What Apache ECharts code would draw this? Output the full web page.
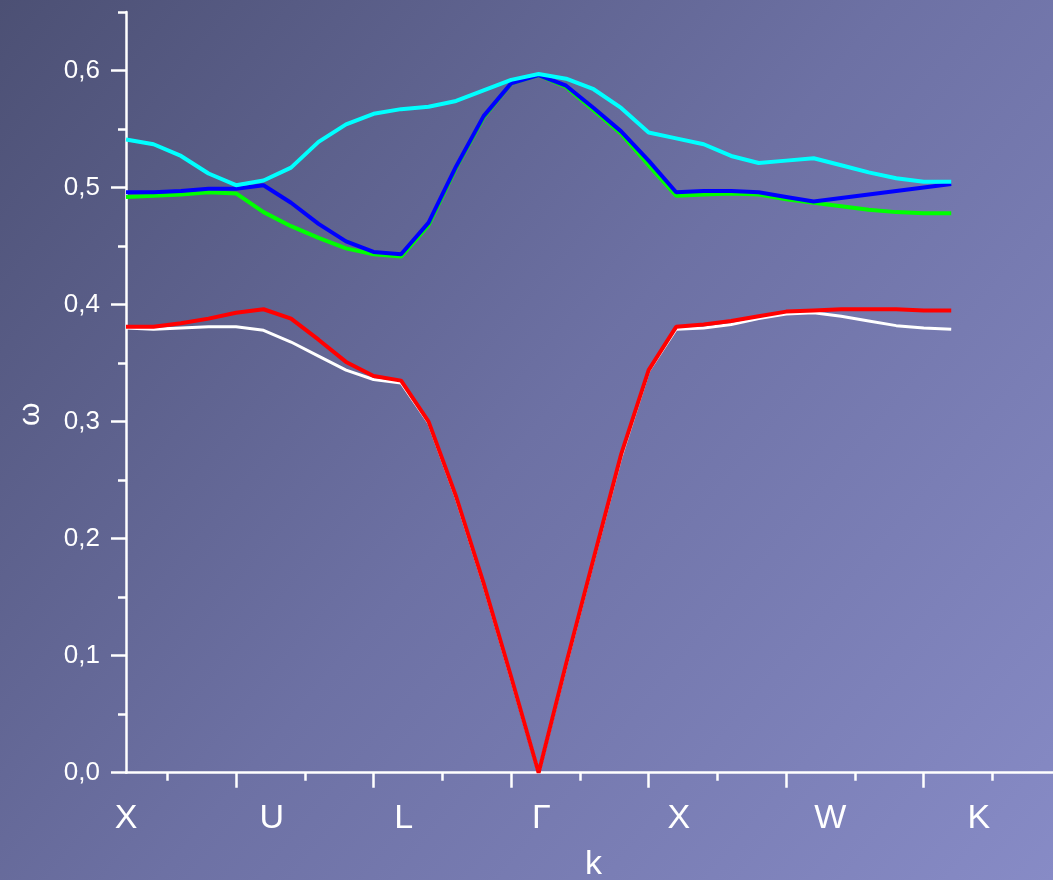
<!DOCTYPE html>
<html><head><meta charset="utf-8">
<script src="https://cdn.jsdelivr.net/npm/echarts@6/dist/echarts.min.js"></script>
<style>html,body{margin:0;padding:0;overflow:hidden;} #c{width:1053px;height:880px;}</style>
</head><body><div id="c"></div>
<script>
// k-path sample index (31 points along X-U-L-Γ-X-W-K)
const kIndex = [0,1,2,3,4,5,6,7,8,9,10,11,12,13,14,15,16,17,18,19,20,21,22,23,24,25,26,27,28,29,30];

const whiteBand = [0.380,0.379,0.380,0.381,0.381,0.378,0.368,0.356,0.344,0.336,0.333,0.299,0.235,0.161,0.081,0.000,0.092,0.182,0.270,0.343,0.379,0.380,0.383,0.388,0.392,0.393,0.390,0.386,0.382,0.380,0.379];
const redBand   = [0.381,0.381,0.384,0.388,0.393,0.396,0.388,0.370,0.351,0.339,0.335,0.300,0.236,0.162,0.082,0.000,0.093,0.183,0.272,0.344,0.381,0.383,0.386,0.390,0.394,0.395,0.396,0.396,0.396,0.395,0.395];
const greenBand = [0.492,0.493,0.494,0.496,0.495,0.479,0.467,0.457,0.448,0.443,0.441,0.468,0.517,0.560,0.589,0.596,0.586,0.566,0.546,0.519,0.493,0.494,0.495,0.494,0.490,0.487,0.484,0.481,0.479,0.478,0.478];
const blueBand  = [0.496,0.496,0.497,0.499,0.499,0.502,0.487,0.469,0.454,0.445,0.443,0.470,0.518,0.561,0.589,0.596,0.587,0.568,0.548,0.523,0.496,0.497,0.497,0.496,0.492,0.488,0.491,0.494,0.497,0.500,0.503];
const cyanBand  = [0.541,0.537,0.527,0.512,0.502,0.506,0.517,0.539,0.554,0.563,0.567,0.569,0.574,0.583,0.592,0.597,0.593,0.584,0.568,0.547,0.542,0.537,0.527,0.521,0.523,0.525,0.519,0.513,0.508,0.505,0.505];

const pointLabels   = ['X','U','L','Γ','X','W','K'];
const pointLabelPos = [0,5.3,10.1,15.1,20.1,25.6,31];
const xMajorTicks = [4,9,14,19,24,29];
const xMinorTicks = [1.5,6.5,11.5,16.5,21.5,26.5,31.5];
const yMajorTicks = [0,0.1,0.2,0.3,0.4,0.5,0.6];
const yMinorTicks = [0.05,0.15,0.25,0.35,0.45,0.55,0.65];

const FONT = "'Liberation Sans', Arial, sans-serif";
const chart = echarts.init(document.getElementById('c'), null, {renderer:'canvas'});

function pairs(arr){ return kIndex.map((k,i)=>[k, arr[i]]); }
function line(name, arr, color, w){
  return {name, type:'line', data:pairs(arr), showSymbol:false, symbol:'none',
    lineStyle:{color, width:w}, itemStyle:{color}, smooth:false, animation:false, z:3};
}
const gridPos = {left:126, top:12, right:0, bottom:107.3, outerBoundsMode:'none', containLabel:false};
const XMAX = 33.7, YMAX = 0.65;

chart.setOption({
  animation:false,
  backgroundColor: new echarts.graphic.LinearGradient(0,0,1,1,[
    {offset:0, color:'#4c5074'},
    {offset:0.5, color:'#6d71a4'},
    {offset:1, color:'#878bc6'}
  ]),
  grid:[Object.assign({}, gridPos), Object.assign({}, gridPos)],
  xAxis:[
    {type:'value', gridIndex:0, min:0, max:XMAX, position:'bottom',
     axisLine:{show:true, onZero:false, lineStyle:{color:'#ffffff', width:2.5}},
     axisTick:{show:true, inside:false, length:15, customValues:xMajorTicks, lineStyle:{color:'#ffffff', width:2.5}},
     axisLabel:{show:true, customValues:pointLabelPos, margin:29, color:'#ffffff', fontSize:34, fontFamily:FONT,
       formatter:(v)=>{ const i = pointLabelPos.findIndex(p=>Math.abs(p-v)<1e-6); return i>=0 ? pointLabels[i] : ''; }},
     splitLine:{show:false},
     name:'k', nameLocation:'middle', nameGap:75,
     nameTextStyle:{color:'#ffffff', fontSize:34, fontFamily:FONT, padding:[0,0,0,8]}
    },
    {type:'value', gridIndex:1, min:0, max:XMAX, position:'bottom',
     axisLine:{show:false},
     axisTick:{show:true, inside:false, length:8, customValues:xMinorTicks, lineStyle:{color:'#ffffff', width:2.5}},
     axisLabel:{show:false}, splitLine:{show:false}}
  ],
  yAxis:[
    {type:'value', gridIndex:0, min:0, max:YMAX, position:'left',
     axisLine:{show:true, onZero:false, lineStyle:{color:'#ffffff', width:2.5}},
     axisTick:{show:true, inside:false, length:15, customValues:yMajorTicks, lineStyle:{color:'#ffffff', width:2.5}},
     axisLabel:{show:true, customValues:yMajorTicks, margin:26, color:'#ffffff', fontSize:26, fontFamily:FONT,
       formatter:(v)=>v.toFixed(1).replace('.', ',')},
     splitLine:{show:false},
     name:'ω', nameLocation:'middle', nameGap:80, nameRotate:90,
     nameTextStyle:{color:'#ffffff', fontSize:30, fontFamily:FONT, padding:[0,44,0,0]}
    },
    {type:'value', gridIndex:1, min:0, max:YMAX, position:'left',
     axisLine:{show:false},
     axisTick:{show:true, inside:false, length:8, customValues:yMinorTicks, lineStyle:{color:'#ffffff', width:2.5}},
     axisLabel:{show:false}, splitLine:{show:false}}
  ],
  series:[
    line('band1', whiteBand, '#ffffff', 3),
    line('band2', redBand, '#ff0000', 4),
    line('band3', greenBand, '#00ff00', 4),
    line('band4', blueBand, '#0000ff', 4),
    line('band5', cyanBand, '#00ffff', 4)
  ]
});
</script>
</body></html>
